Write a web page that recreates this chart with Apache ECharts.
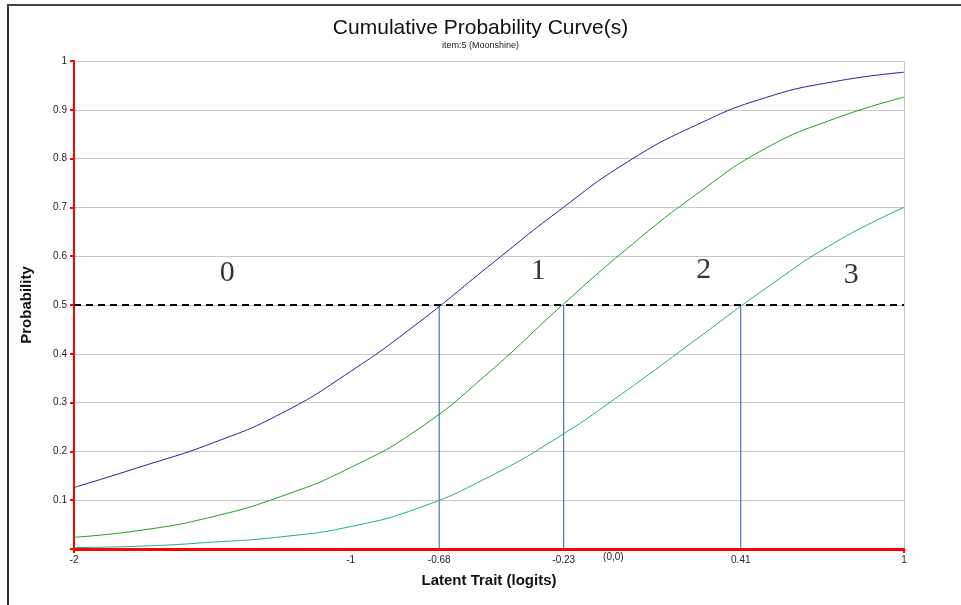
<!DOCTYPE html>
<html>
<head>
<meta charset="utf-8">
<title>Cumulative Probability Curve(s)</title>
<script src="https://cdn.jsdelivr.net/npm/echarts@6/dist/echarts.min.js"></script>
<style>
  html, body { margin: 0; padding: 0; background: #fff; }
  #chart { width: 961px; height: 605px; }
</style>
</head>
<body>
<div id="chart"></div>
<script>
// latent trait (logits) where the curves were read
const theta = [-2, -1.75, -1.5, -1.25, -1, -0.75, -0.5, -0.25, 0, 0.25, 0.5, 0.75, 1]
// cumulative probability, one array per threshold
const curve1 = [0.126, 0.170, 0.217, 0.278, 0.364, 0.466, 0.580, 0.692, 0.793, 0.869, 0.925, 0.958, 0.977]
const curve2 = [0.024, 0.039, 0.066, 0.108, 0.167, 0.248, 0.362, 0.492, 0.616, 0.727, 0.821, 0.882, 0.926]
const curve3 = [0.003, 0.006, 0.014, 0.025, 0.046, 0.085, 0.148, 0.229, 0.326, 0.430, 0.534, 0.628, 0.700]
// thresholds where each curve crosses 0.5
const cutPoints = [-0.68, -0.23, 0.41]
const xTickLabels = [-2, -1, -0.68, -0.23, 0, 0.41, 1]
// category labels drawn inside the plot
const regionNames = ['0', '1', '2', '3']
const regionX = [-1.446, -0.322, 0.276, 0.809]
const regionY = [0.565, 0.570, 0.571, 0.561]

const zip = (xs, ys) => xs.map((x, i) => [x, ys[i]])

let myChart = echarts.init(document.getElementById('chart'))

let curveSeries = [
	{ data: curve1, color: '#22229a' },
	{ data: curve2, color: '#1f9f1f' },
	{ data: curve3, color: '#26a697' }
].map(c => ({
	type: 'line',
	smooth: true,
	showSymbol: false,
	silent: true,
	data: zip(theta, c.data),
	lineStyle: { color: c.color, width: 1 },
	z: 3
}))

let cutSeries = cutPoints.map(x => ({
	type: 'line',
	showSymbol: false,
	silent: true,
	data: [[x, 0], [x, 0.5]],
	lineStyle: { color: '#2a5f9c', width: 1 },
	z: 2
}))

let option = {
	animation: false,
	backgroundColor: '#fff',
	title: {
		text: 'Cumulative Probability Curve(s)',
		subtext: 'item:5 (Moonshine)',
		left: 'center',
		top: 18,
		padding: 0,
		itemGap: 2,
		textStyle: { fontFamily: 'Liberation Sans, Arial', fontSize: 21, fontWeight: 'normal', color: '#111' },
		subtextStyle: { fontFamily: 'Liberation Sans, Arial', fontSize: 9, color: '#222' }
	},
	grid: { left: 74, right: 57, top: 61, bottom: 56, containLabel: false },
	xAxis: {
		type: 'value',
		min: -2,
		max: 1,
		interval: 1,
		name: 'Latent Trait (logits)',
		nameLocation: 'middle',
		nameGap: 24,
		nameTextStyle: { fontFamily: 'Liberation Sans, Arial', fontSize: 15, fontWeight: 'bold', color: '#111' },
		axisLine: { onZero: false, lineStyle: { color: '#ff0000', width: 3 } },
		axisTick: { show: true, customValues: [-2, 1], length: 4, lineStyle: { color: '#ff0000', width: 2 } },
		axisLabel: {
			customValues: xTickLabels,
			margin: 6,
			fontFamily: 'Liberation Sans, Arial',
			fontSize: 10,
			color: '#222',
			formatter: v => v === 0 ? '{z|(0,0)}' : String(v),
			rich: { z: { fontSize: 10, color: '#222', padding: [-3, 28, 0, 0] } }
		},
		splitLine: { show: true, lineStyle: { color: '#c8c8c8', width: 1 } }
	},
	yAxis: {
		type: 'value',
		min: 0,
		max: 1,
		interval: 0.1,
		name: 'Probability',
		nameLocation: 'middle',
		nameGap: 40,
		nameTextStyle: { fontFamily: 'Liberation Sans, Arial', fontSize: 15, fontWeight: 'bold', color: '#111' },
		axisLine: { show: true, onZero: false, lineStyle: { color: '#ff0000', width: 2 } },
		axisTick: { show: true, length: 4, lineStyle: { color: '#ff0000', width: 2 } },
		axisLabel: {
			margin: 7,
			fontFamily: 'Liberation Sans, Arial',
			fontSize: 10,
			color: '#222',
			formatter: v => v === 0 ? '' : String(+v.toFixed(1))
		},
		splitLine: { show: true, lineStyle: { color: '#c8c8c8', width: 1 } }
	},
	graphic: [
		{ type: 'line', shape: { x1: 8, y1: 4, x2: 8, y2: 605 }, style: { stroke: '#333', lineWidth: 2 } },
		{ type: 'line', shape: { x1: 7, y1: 5, x2: 961, y2: 5 }, style: { stroke: '#444', lineWidth: 2 } }
	],
	series: [
		...curveSeries,
		...cutSeries,
		{
			type: 'line',
			showSymbol: false,
			silent: true,
			data: [[-2, 0.5], [1, 0.5]],
			lineStyle: { color: '#000', width: 2, type: [7, 5] },
			z: 4
		},
		{
			type: 'scatter',
			silent: true,
			symbolSize: 1,
			itemStyle: { color: 'rgba(0,0,0,0)' },
			data: regionNames.map((n, i) => ({ name: n, value: [regionX[i], regionY[i]] })),
			label: {
				show: true,
				position: 'inside',
				formatter: p => p.name,
				fontFamily: 'Liberation Serif, Times New Roman, serif',
				fontSize: 30,
				color: '#000'
			},
			z: 5
		}
	]
}
myChart.setOption(option)
</script>
</body>
</html>
